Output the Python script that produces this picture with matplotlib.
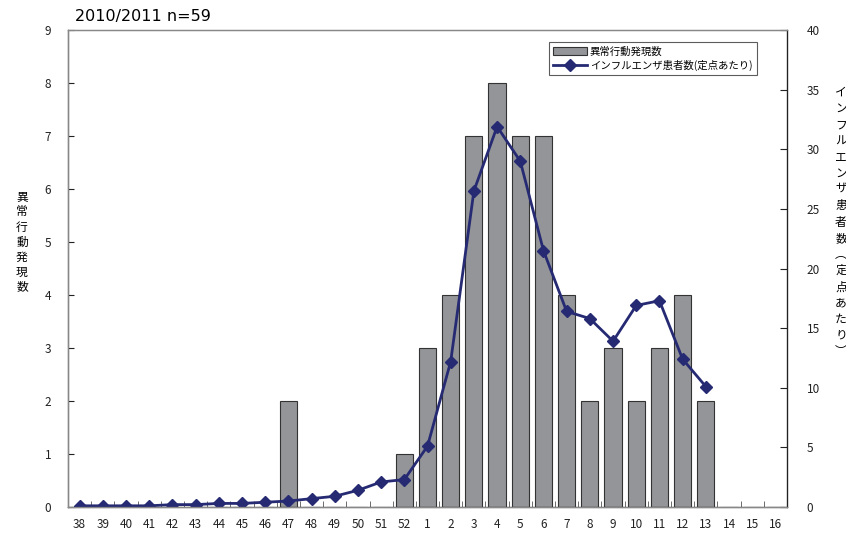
import matplotlib
matplotlib.use("Agg")
import matplotlib.pyplot as plt
import numpy as np
from matplotlib.ticker import FixedLocator, MultipleLocator

plt.rcParams['font.family'] = ['Noto Sans CJK JP', 'DejaVu Sans']

weeks = ["38", "39", "40", "41", "42", "43", "44", "45", "46", "47", "48", "49", "50", "51", "52",
         "1", "2", "3", "4", "5", "6", "7", "8", "9", "10", "11", "12", "13", "14", "15", "16"]
# abnormal behaviour reports per week (bars, left axis)
abnormal = [0, 0, 0, 0, 0, 0, 0, 0, 0, 2, 0, 0, 0, 0, 1,
            3, 4, 7, 8, 7, 7, 4, 2, 3, 2, 3, 4, 2, 0, 0, 0]
# influenza patients per sentinel (line, right axis), up to week 13
flu = [0.1, 0.1, 0.1, 0.1, 0.2, 0.2, 0.3, 0.3, 0.4, 0.5, 0.7, 0.9, 1.4, 2.1, 2.3,
       5.1, 12.2, 26.5, 31.9, 29.0, 21.5, 16.4, 15.8, 13.9, 16.9, 17.3, 12.4, 10.1]

bar_label = "異常行動発現数"
line_label = "インフルエンザ患者数(定点あたり)"
left_ylabel = "異常行動発現数"
right_ylabel = "インフルエンザ患者数︵定点あたり︶"

fig = plt.figure(figsize=(8.46, 5.35), dpi=100)
ax = fig.add_axes([68 / 846, 1 - 507 / 535, (787 - 68) / 846, (507 - 30) / 535])
ax2 = ax.twinx()

x = np.arange(len(weeks))
bars = ax.bar(x, abnormal, width=0.74, color="#949598", edgecolor="#333333", linewidth=0.8)
ax.set_xlim(-0.5, len(weeks) - 0.5)
ax.set_ylim(0, 9)
ax.yaxis.set_major_locator(MultipleLocator(1))

ax.set_xticks(x)
ax.set_xticklabels(weeks)
ax.xaxis.set_minor_locator(FixedLocator(np.arange(0.5, len(weeks) - 1, 1)))
ax.tick_params(axis="x", which="major", length=0, labelsize=8.5, pad=8, colors="#222222")
ax.tick_params(axis="x", which="minor", length=4, direction="in", color="#555555")
ax.tick_params(axis="y", length=4, direction="in", labelsize=8.5, pad=12, colors="#222222")

line, = ax2.plot(x[:len(flu)], flu, color="#252a73", linewidth=2, marker="D", markersize=6.5,
                 markerfacecolor="#252a73", markeredgecolor="#252a73")
ax2.set_ylim(0, 40)
ax2.yaxis.set_major_locator(MultipleLocator(5))
ax2.tick_params(axis="y", length=5, direction="in", labelsize=8.5, pad=14, colors="#222222")

for a in (ax, ax2):
    for s in a.spines.values():
        s.set_color("#888888")
        s.set_linewidth(0.9)
ax.spines["left"].set_color("#222222")
ax.spines["bottom"].set_color("#222222")
ax2.spines["right"].set_color("#222222")

fig.text(75 / 846, 1 - 17 / 535, "2010/2011 n=59", fontsize=11.5, va="center", ha="left",
         family=["DejaVu Sans"])
fig.text(22 / 846, 1 - 242 / 535, "\n".join(left_ylabel), fontsize=8.5, ha="center", va="center",
         linespacing=1.2)
fig.text(841 / 846, 1 - 222 / 535, "\n".join(right_ylabel), fontsize=8.5, ha="center", va="center",
         linespacing=1.32)

leg = ax2.legend([bars, line], [bar_label, line_label], loc="upper right",
                 bbox_to_anchor=(0.965, 0.985), fontsize=7.5, frameon=True, fancybox=False,
                 edgecolor="#333333", borderpad=0.4, labelspacing=0.3, handlelength=3.2,
                 handleheight=0.7, handletextpad=0.3)
leg.get_frame().set_linewidth(0.8)

fig.savefig("out.png", dpi=100)
